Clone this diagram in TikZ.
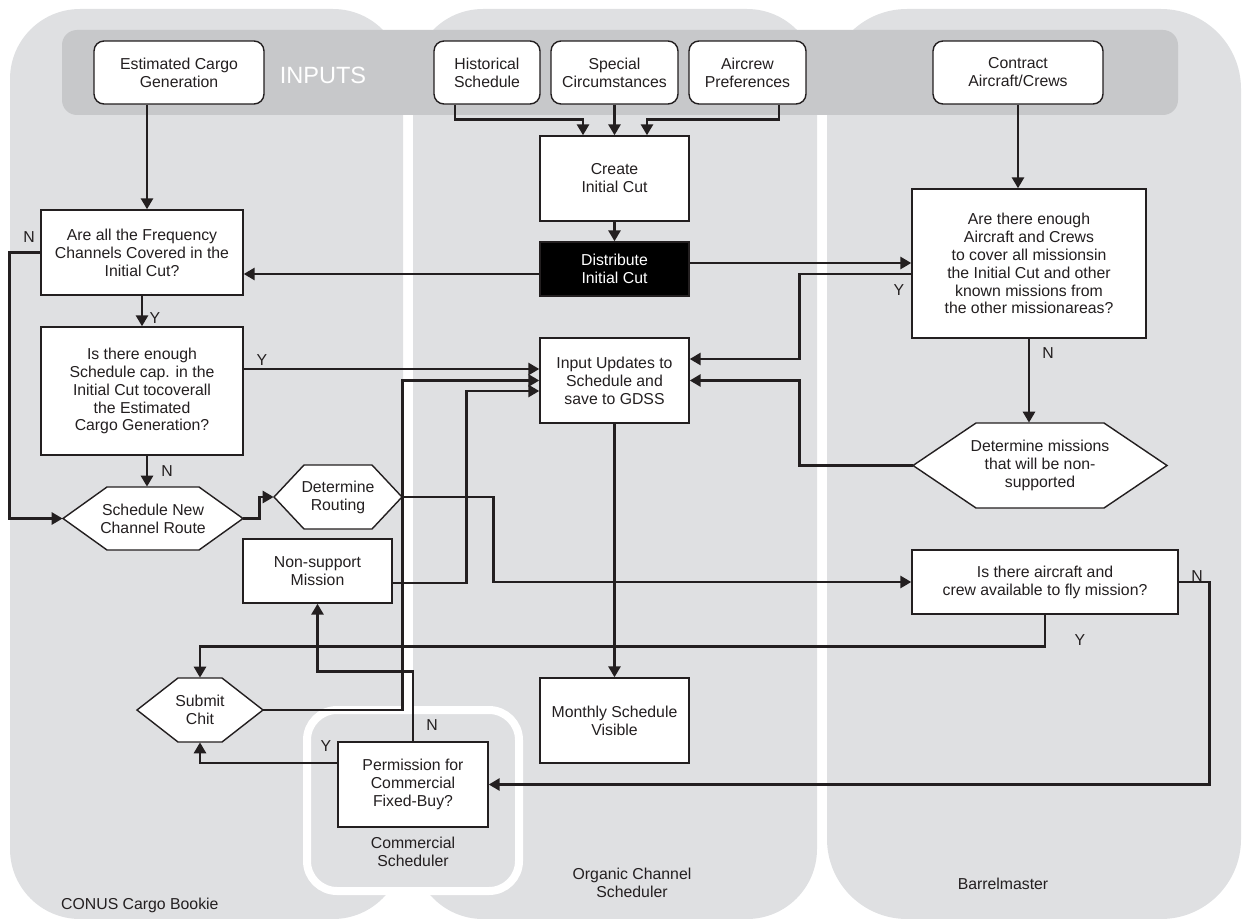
\documentclass[tikz,border=0pt]{standalone}
\usepackage{fontspec}
\setmainfont{Liberation Sans}
\usepackage{tikz}
\usetikzlibrary{arrows.meta}

\definecolor{lanegray}{RGB}{223,224,226}
\definecolor{bandgray}{RGB}{199,200,202}
\definecolor{inkgray}{RGB}{35,31,32}

\newcommand{\hexshape}[5]{\draw[boxline] (#1-#3,#2) -- (#1-#3+#5,#2-#4) -- (#1+#3-#5,#2-#4) -- (#1+#3,#2) -- (#1+#3-#5,#2+#4) -- (#1-#3+#5,#2+#4) -- cycle;}

\begin{document}
\begin{tikzpicture}[x=0.02cm, y=-0.02cm,
	font=\fontsize{9}{10.2}\selectfont, text=inkgray,
	boxline/.style={draw=inkgray, line width=0.8pt, fill=white},
	stepbox/.style={boxline, inner sep=0pt, align=center, minimum width=2.98cm, minimum height=1.7cm},
	inbox/.style={stepbox, rounded corners=0.2cm, minimum height=1.26cm},
	hexbox/.style={inner sep=0pt, align=center},
	flow/.style={draw=inkgray, line width=1.6pt, -{Triangle[length=0.22cm,width=0.24cm]}},
	yn/.style={inner sep=0pt}]
				\useasboundingbox (0,0) rectangle (1247,919);
				\fill[lanegray, rounded corners=1.4cm] (10,9) rectangle (403,919);
				\fill[lanegray, rounded corners=1.4cm] (413,9) rectangle (817,919);
				\fill[lanegray, rounded corners=1.6cm] (827,9) rectangle (1241,919);
				\fill[bandgray, rounded corners=0.3cm] (62,30) rectangle (1178,115);
				\draw[white, line width=0.16cm, fill=lanegray, rounded corners=0.6cm] (307,710) rectangle (519,891);
				
				\node[inbox, minimum width=3.4cm] (est) at (179,72.5) {Estimated Cargo\\Generation};
				\node[font=\fontsize{13.4}{15}\selectfont, text=white] (inputs) at (323,75) {INPUTS};
				\node[inbox, minimum width=2.12cm] (hist) at (487,72.5) {Historical\\Schedule};
				\node[inbox, minimum width=2.54cm] (spec) at (614.5,72.5) {Special\\Circumstances};
				\node[inbox, minimum width=2.34cm] (crew) at (747.5,72.5) {Aircrew\\Preferences};
				\node[inbox, minimum width=3.4cm] (contract) at (1018,72.5) {Contract\\Aircraft/Crews};
				
				\node[stepbox] (create) at (614.5,178.5) {Create\\Initial Cut};
				\node[stepbox, fill=black, text=white, minimum height=1.08cm] (dist) at (614.5,269) {Distribute\\Initial Cut};
				\node[stepbox, minimum width=4.04cm] (areall) at (142,252.5) {Are all the Frequency\\Channels Covered in the\\Initial Cut?};
				\node[stepbox, minimum width=4.68cm, minimum height=2.98cm] (enough) at (1029,263.5) {Are there enough\\Aircraft and Crews\\to cover all missionsin\\the Initial Cut and other\\known missions from\\the other missionareas?};
				\node[stepbox, minimum width=4.04cm, minimum height=2.56cm] (schedcap) at (142,391) {Is there enough\\Schedule cap. in the\\Initial Cut tocoverall\\the Estimated\\Cargo Generation?};
				\node[stepbox] (inp) at (614.5,380.5) {Input Updates to\\Schedule and\\save to GDSS};
				\hexshape{1040}{465.5}{127}{42.5}{63}
				\node[hexbox, minimum width=5.08cm, minimum height=1.7cm] (detmis) at (1040,465.5) {Determine missions\\that will be non-\\supported};
				\hexshape{153}{518.5}{90}{31.5}{44}
				\node[hexbox, minimum width=3.6cm, minimum height=1.26cm] (schednew) at (153,518.5) {Schedule New\\Channel Route};
				\hexshape{338}{497}{64}{32}{30}
				\node[hexbox, minimum width=2.56cm, minimum height=1.28cm] (detrout) at (338,497) {Determine\\Routing};
				\node[stepbox, minimum height=1.28cm] (nonsup) at (317.5,571) {Non-support\\Mission};
				\node[stepbox, minimum width=5.32cm, minimum height=1.28cm] (avail) at (1045,582) {Is there aircraft and\\crew available to fly mission?};
				\hexshape{200}{710}{63}{32}{41}
				\node[hexbox, minimum width=2.52cm, minimum height=1.28cm] (chit) at (200,710) {Submit\\Chit};
				\node[stepbox, minimum width=3cm] (perm) at (413,784.5) {Permission for\\Commercial\\Fixed-Buy?};
				\node[stepbox] (monthly) at (614.5,720.5) {Monthly Schedule\\Visible};
				
				\node[anchor=west] (conus) at (55,905) {CONUS Cargo Bookie};
				\node[align=center] (organic) at (632,883) {Organic Channel\\Scheduler};
				\node[align=center] (commercial) at (413,852) {Commercial\\Scheduler};
				\node (barrel) at (1003,884) {Barrelmaster};
				
				\draw[flow] ([xshift=-0.64cm]est.south) -- ([xshift=-0.64cm]est.south |- areall.north);
				\draw[flow] ([xshift=-0.64cm]hist.south) -- ++(0,15) -| ([xshift=-0.63cm]create.north);
				\draw[flow] (spec.south) -- (create.north);
				\draw[flow] ([xshift=0.63cm]crew.south) -- ++(0,15) -| ([xshift=0.65cm]create.north);
				\draw[flow] (contract.south) -- (contract.south |- enough.north);
				\draw[flow] (create) -- (dist);
				\draw[flow] ([yshift=-0.1cm]dist.west) -- ([yshift=-0.1cm]dist.west -| areall.east);
				\draw[flow] ([yshift=0.12cm]dist.east) -- ([yshift=0.12cm]dist.east -| enough.west);
				\draw[flow] ([yshift=-0.21cm]enough.west) -- ++(-112,0) |- ([yshift=0.43cm]inp.east);
				\draw[flow] (enough.south) -- (enough.south |- detmis.north);
				\draw[flow] (detmis.west) -- ++(-113,0) |- (inp.east);
				\draw[flow] (areall.west) -- ++(-31,0) |- (schednew.west);
				\draw[flow] (areall) -- (schedcap);
				\draw[flow] ([yshift=0.44cm]schedcap.east) -- ([yshift=0.44cm]schedcap.east -| inp.west);
				\draw[flow] ([xshift=0.1cm]schedcap.south) -- ([xshift=0.1cm]schedcap.south |- schednew.north);
				\draw[flow] (schednew.east) -- ++(16,0) |- (detrout.west);
				\draw[flow] (detrout.east) -- ++(91,0) |- (avail.west);
				\draw[flow] ([yshift=-0.24cm]nonsup.east) -- ++(74,0) |- ([yshift=-0.21cm]inp.west);
				\draw[flow] (chit.east) -- ++(139,0) |- (inp.west);
				\draw[flow] (avail.south) -- ++(0,32) -| (chit.north);
				\draw[flow] (avail.east) -- ++(31,0) |- (perm.east);
				\draw[flow] (perm.north) -- ++(0,-70) -| (nonsup.south);
				\draw[flow] ([yshift=0.43cm]perm.west) -| (chit.south);
				\draw[flow] (inp) -- (monthly);
				
				\node[yn] (nFreq) at (29,237) {N};
				\node[yn] (yFreq) at (155,318) {Y};
				\node[yn] (yCap) at (262,360) {Y};
				\node[yn] (nCap) at (167,471) {N};
				\node[yn] (yCrews) at (899,290) {Y};
				\node[yn] (nCrews) at (1048,353) {N};
				\node[yn] (nAvail) at (1197,576) {N};
				\node[yn] (yAvail) at (1080,640) {Y};
				\node[yn] (nPerm) at (432,725) {N};
				\node[yn] (yPerm) at (326,746) {Y};
			\end{tikzpicture}
\end{document}
